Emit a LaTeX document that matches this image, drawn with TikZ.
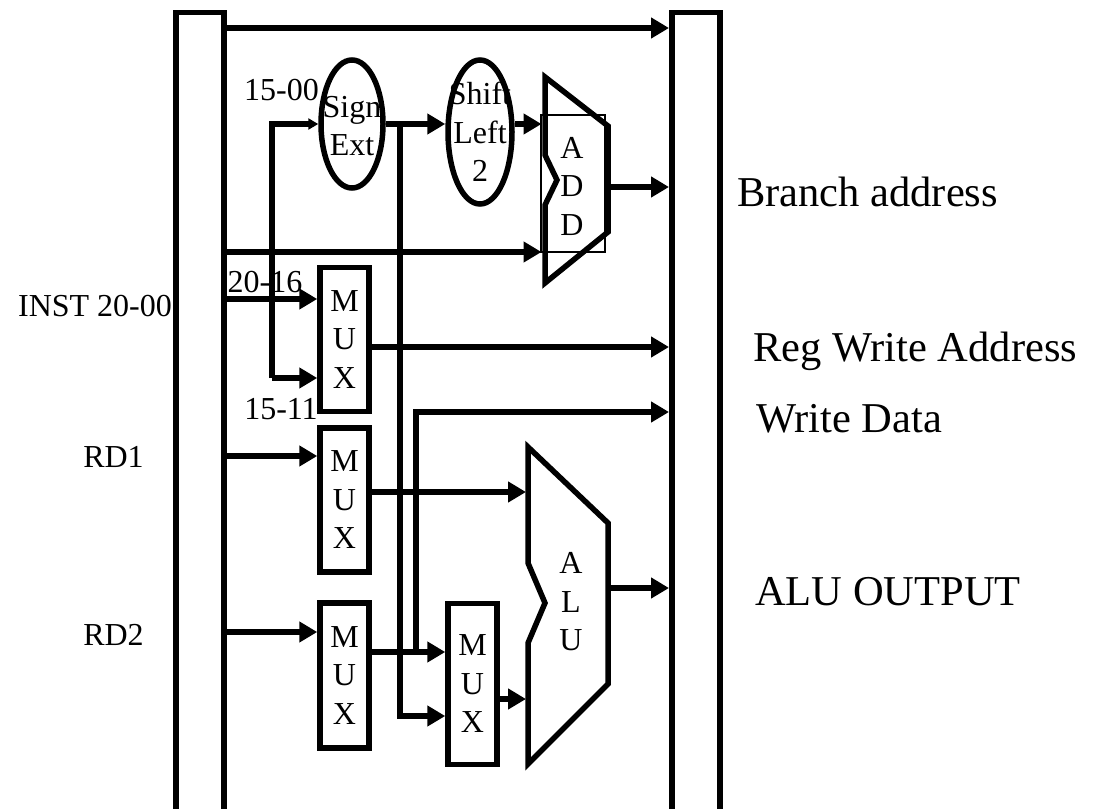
\documentclass[tikz,border=0pt]{standalone}
\usepackage{fontspec}
\setmainfont{Liberation Serif}
\usetikzlibrary{arrows.meta,positioning,shapes.geometric}
\tikzset{
  regbar/.style={draw, line width=5.5pt, minimum width=48pt, minimum height=830pt, inner sep=0pt, anchor=north west},
  muxbox/.style={draw, line width=5.5pt, minimum width=49pt, inner sep=0pt, align=center, font=\smalltext},
  oval/.style={draw, ellipse, line width=5.5pt, inner sep=0pt},
  oplabel/.style={align=center, font=\smalltext, inner sep=0pt},
  small/.style={font=\smalltext, inner sep=0pt},
  big/.style={font=\bigtext, inner sep=0pt, anchor=west},
  line/.style={-{Triangle[length=18pt,width=20pt]}, line width=6pt},
  thinline/.style={-{Triangle[length=10pt,width=11pt]}, line width=6pt},
  unit/.style={line width=5.5pt, line join=miter}
}
\newcommand{\smalltext}{\fontsize{32}{38.5}\selectfont}
\newcommand{\bigtext}{\fontsize{42.5}{50}\selectfont}

\begin{document}
\begin{tikzpicture}[x=1pt,y=-1pt]
  \useasboundingbox (0,0) rectangle (1093,809);
  \clip (0,0) rectangle (1093,809);
  % the two pipeline registers
  \node[regbar] (leftbar) at (173,9.5) {};
  \node[regbar] (rightbar) at (669,9.5) {};
  % mux boxes
  \node[muxbox, minimum height=144pt] (muxa) at (344.5,339.5) {M\\U\\X};
  \node[muxbox, minimum height=144pt] (muxb) at (344.5,500) {M\\U\\X};
  \node[muxbox, minimum height=145pt] (muxc) at (344.5,675.5) {M\\U\\X};
  \node[muxbox, minimum height=161pt] (muxd) at (472.5,684) {M\\U\\X};
  % ovals, the text is wider than they are
  \node[oval, minimum width=62pt, minimum height=128pt,
    label={[oplabel,yshift=-2pt]center:Sign\\Ext}] (signext) at (352,124) {};
  \node[oval, minimum width=64pt, minimum height=144pt,
    label={[oplabel]center:Shift\\Left\\2}] (shift) at (480,132) {};
  % adder
  \node[draw, line width=1.5pt, minimum width=64pt, minimum height=137pt, inner sep=0pt,
    label={[oplabel,xshift=-1pt,yshift=-2.5pt]center:A\\D\\D}] (add) at (573,183.5) {};
  \draw[unit] (545,77) -- (608,126) -- (608,232) -- (545,283) -- (545,205) -- (557,180)
    -- (545,155) -- cycle;
  % alu
  \node[oplabel] (alu) at (571,602) {A\\L\\U};
  \draw[unit] (528,447) -- (608,523) -- (608,684) -- (528,764) -- (528,643) -- (545,603)
    -- (528,563) -- cycle;
  % where the wires turn and end
  \coordinate (top) at (0,28);
  \coordinate (pcin) at (0,252);
  \coordinate (addin) at (541.5,0);
  \coordinate (addout) at (610.5,187);
  \coordinate (regaddr) at (0,347);
  \coordinate (inst) at (0,299);
  \coordinate (signtap) at (272,124);
  \coordinate (muxaneg) at (272,378);
  \coordinate (branch) at (400,124);
  \coordinate (muxdneg) at (400,716);
  \coordinate (dataup) at (416,652);
  \coordinate (datatop) at (416,412);
  \coordinate (rdone) at (0,456);
  \coordinate (rdtwo) at (0,632);
  \coordinate (muxbout) at (0,492);
  \coordinate (aluin) at (526,0);
  \coordinate (aluout) at (610.5,588);
  \coordinate (muxdout) at (0,699);
  % connectors
  \draw[line] (leftbar.east |- top) -- (rightbar.west |- top);
  \draw[line] (leftbar.east |- pcin) -- (addin |- pcin);
  \draw[line] (leftbar.east |- inst) -- (muxa.west |- inst);
  \draw[thinline] (muxaneg) -- (signtap) -- (signext.west);
  \draw[line] (signtap |- muxaneg) -- (muxa.west |- muxaneg);
  \draw[line] (signext.east) -- (shift.west |- signext.east);
  \draw[line] (shift.east |- signtap) -- (addin |- signtap);
  \draw[line] (addout) -- (rightbar.west |- addout);
  \draw[line] (muxa.east |- regaddr) -- (rightbar.west |- regaddr);
  \draw[line] (dataup) -- (datatop) -- (rightbar.west |- datatop);
  \draw[line] (leftbar.east |- rdone) -- (muxb.west |- rdone);
  \draw[line] (muxb.east |- muxbout) -- (aluin |- muxbout);
  \draw[line] (leftbar.east |- rdtwo) -- (muxc.west |- rdtwo);
  \draw[line] (muxc.east |- dataup) -- (muxd.west |- dataup);
  \draw[line] (branch) -- (muxdneg) -- (muxd.west |- muxdneg);
  \draw[line] (muxd.east |- muxdout) -- (aluin |- muxdout);
  \draw[line] (aluout) -- (rightbar.west |- aluout);
  % labels
  \node[small] (instlabel) at (95,306) {INST 20-00};
  \node[small] (rdonelabel) at (113.5,457) {RD1};
  \node[small] (rdtwolabel) at (113.5,635) {RD2};
  \node[small] (immlabel) at (281.5,90) {15-00};
  \node[small] (rtlabel) at (265,282) {20-16};
  \node[small] (rdlabel) at (281,409) {15-11};
  \node[big] (branchlabel) at (737,192) {Branch address};
  \node[big] (regaddrlabel) at (753,351) {Reg Write Address};
  \node[big] (datalabel) at (756,419) {Write Data};
  \node[big] (aluoutlabel) at (755,592) {ALU OUTPUT};
\end{tikzpicture}
\end{document}
